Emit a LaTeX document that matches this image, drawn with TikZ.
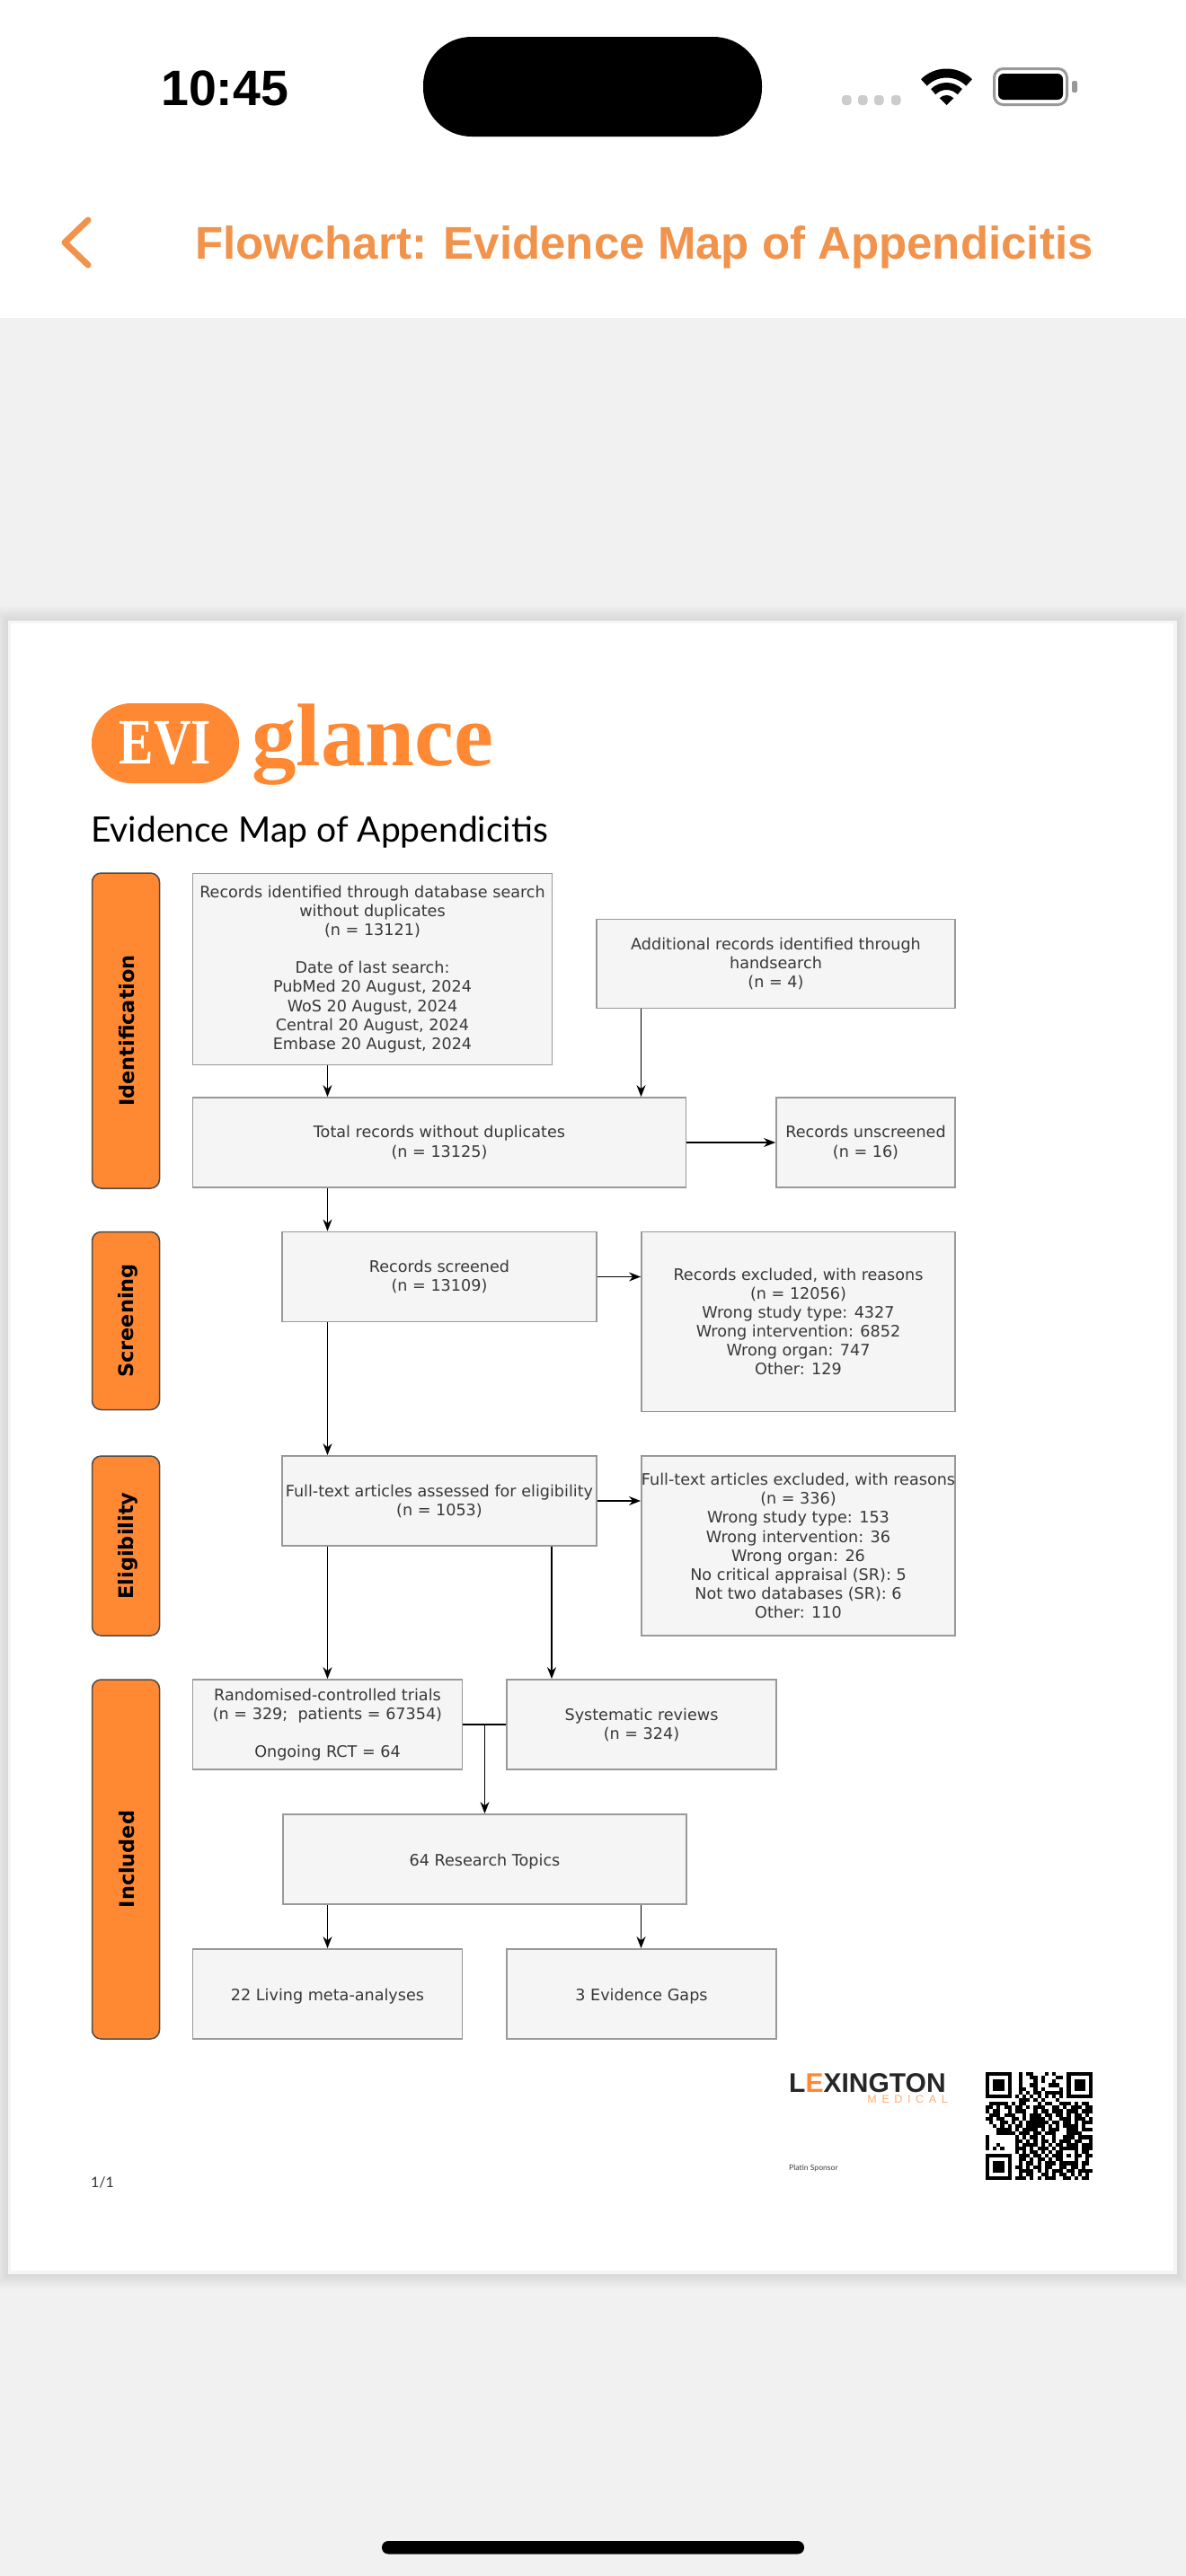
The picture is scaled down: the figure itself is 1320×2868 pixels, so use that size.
\documentclass[tikz,border=0pt]{standalone}
\usepackage{fontspec}
\setmainfont{DejaVu Sans}
\newfontfamily\uifont{Liberation Sans}
\newfontfamily\logofont{Liberation Serif}
\newfontfamily\titlefont{Lato}
\newfontfamily\sponsorfont[LetterSpace=45]{Liberation Sans}
\usetikzlibrary{arrows.meta,positioning}
\definecolor{evi}{HTML}{FF8833}
\definecolor{appbar}{HTML}{F1934B}
\definecolor{pagebg}{HTML}{F1F1F1}
\tikzset{
    >={Stealth[length=13pt,width=10pt]},
    graybox/.style ={
        shape=rectangle,
        draw=black!40,
        line width=1.8pt,
        fill=black!4,
        text=black!78,
        inner sep=0pt,
        align=center,
        execute at begin node=\rule{0pt}{18.5pt},
        font=\fontsize{17.6}{21.1}\selectfont
    },
    phasebar/.style ={
        shape=rectangle,
        rotate=90,
        rounded corners=10pt,
        draw=black!70,
        line width=1.5pt,
        fill=evi,
        text=black,
        inner sep=0pt,
        minimum height=75pt,
        execute at begin node=\rule[-4pt]{0pt}{26pt},
        font=\fontsize{22.4}{26}\selectfont\bfseries
    },
    flow/.style ={
        ->,
        line width=1.5pt,
        black
    },
    flat/.style ={
        inner sep=0pt,
        anchor=base west
    }
}
% one row of the code, x = dark cell
\newcount\qrcol
\def\qrscan#1{\ifx#1;\else
    \if#1x\fill[black] (1097+4.11*\the\qrcol,2307+4.14*\qrrow) rectangle ++(4.15,4.18);\fi
    \advance\qrcol by 1
    \expandafter\qrscan\fi}

\begin{document}
\begin{tikzpicture}[x=1pt,y=-1pt]
    \useasboundingbox (0,0) rectangle (1320,2868);
    \fill[pagebg] (0,0) rectangle (1320,2868);
    \fill[white] (0,0) rectangle (1320,354);

    % status bar
    \node[flat,font=\fontsize{55.5}{55}\selectfont\uifont\bfseries] (clock) at (179,117) {10:45};
    \fill[black,rounded corners=54pt] (471,41) rectangle (848,152);
    \foreach \x in {937,955,973,992}
        \fill[black!20,rounded corners=3.5pt] (\x,106) rectangle ++(10.5,11);
    \begin{scope}[shift={(1053.5,117)},y=1pt]
        \draw[line width=10pt] (135:35.5) arc[start angle=135,end angle=45,radius=35.5pt];
        \draw[line width=8pt] (135:21) arc[start angle=135,end angle=45,radius=21pt];
        \fill (0,0) -- (135:11) arc[start angle=135,end angle=45,radius=11pt] -- cycle;
    \end{scope}
    \draw[black!40,line width=3pt,rounded corners=10pt] (1106.5,76.5) rectangle (1187.5,116.5);
    \fill[black,rounded corners=6pt] (1111,82) rectangle (1183,111);
    \fill[black!40,rounded corners=2pt] (1193,90) rectangle (1199,103);

    % app bar
    \draw[appbar,line width=7pt,line cap=round,line join=round] (98,245) -- (72,270) -- (98,295);
    \node[flat,text=appbar,font=\fontsize{51}{51}\selectfont\uifont\bfseries] (appbartitle) at (217,288) {Flowchart: Evidence Map of Appendicitis};

    % page with its shadow
    \foreach \s in {16,14,...,2}
        \fill[black,opacity=.012] (9-\s,691-\s) rectangle (1310+\s,2532+\s);
    \fill[black!4] (9,691) rectangle (1310,2532);
    \fill[white] (12,694) rectangle (1306,2528);

    % logo and heading
    \node[fill=evi,rounded corners=44pt,minimum width=164pt,minimum height=89pt,inner sep=0pt,text=white,font=\fontsize{72}{72}\selectfont\logofont\bfseries] (evipill) at (184,827.5) {\scalebox{.8}[1]{EVI}};
    \node[flat,text=evi,font=\fontsize{99}{99}\selectfont\logofont\bfseries] (glance) at (280,852.5) {glance};
    \node[flat,text=black,font=\fontsize{39}{39}\selectfont\titlefont] (maptitle) at (101,937) {Evidence Map of Appendicitis};

    % phases
    \node[phasebar,minimum width=351pt] (identification) at (140,1147.5) {Identification};
    \node[phasebar,minimum width=198pt] (screening) at (140,1470.5) {Screening};
    \node[phasebar,minimum width=200pt] (eligibility) at (140,1721) {Eligibility};
    \node[phasebar,minimum width=400pt] (included) at (140,2070) {Included};

    % boxes
    \node[graybox,minimum width=400pt,minimum height=213pt] (database) at (414.5,1079) {Records identified through database search\\without duplicates\\(n = 13121)\\[21pt]Date of last search:\\PubMed 20 August, 2024\\WoS 20 August, 2024\\Central 20 August, 2024\\Embase 20 August, 2024};
    \node[graybox,minimum width=399pt,minimum height=99pt] (handsearch) at (863.5,1073) {Additional records identified through\\handsearch\\(n = 4)};
    \node[graybox,minimum width=549pt,minimum height=100pt] (total) at (489,1272) {Total records without duplicates\\(n = 13125)};
    \node[graybox,minimum width=199pt,minimum height=100pt] (unscreened) at (963.5,1272) {Records unscreened\\(n = 16)};
    \node[graybox,minimum width=350pt,minimum height=100pt] (screened) at (489,1421.5) {Records screened\\(n = 13109)};
    \node[graybox,execute at begin node=,minimum width=349pt,minimum height=200pt] (excluded) at (888.5,1471.5) {Records excluded, with reasons\\(n = 12056)\\Wrong study type: 4327\\Wrong intervention: 6852\\Wrong organ: 747\\Other: 129};
    \node[graybox,minimum width=350pt,minimum height=100pt] (fulltext) at (489,1671) {Full-text articles assessed for eligibility\\(n = 1053)};
    \node[graybox,minimum width=349pt,minimum height=200pt] (fullexcluded) at (888.5,1721) {Full-text articles excluded, with reasons\\(n = 336)\\Wrong study type: 153\\Wrong intervention: 36\\Wrong organ: 26\\No critical appraisal (SR): 5\\Not two databases (SR): 6\\Other: 110};
    \node[graybox,minimum width=300pt,minimum height=100pt] (rct) at (364.5,1920) {Randomised-controlled trials\\(n = 329;~~patients = 67354)\\[21pt]Ongoing RCT = 64};
    \node[graybox,minimum width=300pt,minimum height=100pt] (reviews) at (714,1920) {Systematic reviews\\(n = 324)};
    \node[graybox,minimum width=449pt,minimum height=100pt] (topics) at (539.5,2070) {64 Research Topics};
    \node[graybox,minimum width=300pt,minimum height=100pt] (living) at (364.5,2220) {22 Living meta-analyses};
    \node[graybox,minimum width=300pt,minimum height=100pt] (gaps) at (714,2220) {3 Evidence Gaps};

    % columns the connectors run on
    \coordinate (colleft) at (364.5,0);
    \coordinate (colmid) at (614,0);
    \coordinate (colright) at (713.5,0);
    \coordinate (merge) at (rct.east -| topics.north);

    \draw[flow] (database.south -| colleft) -- (total.north -| colleft);
    \draw[flow] (handsearch.south -| colright) -- (total.north -| colright);
    \draw[flow] (total) -- (unscreened);
    \draw[flow] (screened.east) -- (excluded.west |- screened.east);
    \draw[flow] (total.south -| colleft) -- (screened.north -| colleft);
    \draw[flow] (screened.south -| colleft) -- (fulltext.north -| colleft);
    \draw[flow] (fulltext.east) -- (fullexcluded.west |- fulltext.east);
    \draw[flow] (fulltext.south -| colleft) -- (rct.north -| colleft);
    \draw[flow] (fulltext.south -| colmid) -- (reviews.north -| colmid);
    \draw[line width=1.5pt] (rct) -- (reviews);
    \draw[flow] (merge) -- (topics);
    \draw[flow] (topics.south -| colleft) -- (living.north -| colleft);
    \draw[flow] (topics.south -| colright) -- (gaps.north -| colright);

    % sponsor and footer
    \node[flat,text=black!85,font=\fontsize{30}{30}\selectfont\uifont\bfseries] (lexington) at (878,2329) {L\textcolor{evi}{E}XINGTON};
    \node[flat,text=evi!70,anchor=base east,font=\fontsize{12.5}{13}\selectfont\sponsorfont] (medical) at (1055,2341) {MEDICAL};
    \node[flat,text=black!75,font=\fontsize{8.6}{9}\selectfont\titlefont] (platin) at (878,2416) {Platin Sponsor};
    \node[flat,text=black!80,font=\fontsize{16}{16}\selectfont\titlefont] (pagenum) at (101,2435) {1/1};

    % code
    \foreach \qrline [count=\qrrow from 0] in {
        xxxxxxxooxoxxoooxoxoooxxxxxxx,
        xoooooxooxooxxoxoooxxoxooooox,
        xoxxxoxooxoooxoxooxoooxoxxxox,
        xoxxxoxooxooxxoooxxxooxoxxxox,
        xoxxxoxooxxooxoxooooxoxoxxxox,
        xoooooxooxoxoxxoxxxxxoxooooox,
        xxxxxxxoxoxoxoxoxoxoxoxxxxxxx,
        oooooooooxxxoxoxoooxooooooooo,
        oxxxxxoxoxxoooxoxxooxxxoxoxxo,
        xxoxoxxoxxoxoxxxooxxoxoxxxoxx,
        xoxxooxoxxxooxoxxoxxxoxxxoxxx,
        oxxxoxxxooxoxxxoxxoxxoxoxxoxo,
        xxoxxooxxoxoxxxxoxooxxxoxxxox,
        oxooxxoxoxoxxxxxxoxxoxxoxoxxx,
        ooxoxoxoxxoxxxxxoxoxoxxxxoxoo,
        oooxxxxoxoxxxxoxoxxxooxxxoxxx,
        oooxxxxxoxxxoxxoxxxoooxxxxooo,
        xoooooooxoxoxxoxooxooxxxoxxxx,
        xoooooooxxoxoxoxxoxoxxxoxxoox,
        xooxooooxoxxxxoxoxoxxoxxxoxxx,
        xoxoxoooxxxoxoxxxoxoxxxxxoxxx,
        ooooooooxoxoxxoxoxoxxoooxoxxo,
        xxxxxxxooxxxoxxoxoxxxoxoxxoxx,
        xoooooxooxxoxoxxoxoxxoooxooxo,
        xoxxxoxooxoxxoxoxxxoxxxxxoxxo,
        xoxxxoxoxxoxoxxoxxooxxoxxoxoo,
        xoxxxoxooxxxxoxoxoxxxoxxoxxxx,
        xoooooxooxoxxooxxoxoxxoxoxoxo,
        xxxxxxxoxxxoxoxoxxxooxxoxoxxo}{
        \qrcol=0
        \expandafter\qrscan\qrline;
    }

    % home bar
    \fill[black,rounded corners=7pt] (425,2829) rectangle (895,2843.5);
\end{tikzpicture}
\end{document}
